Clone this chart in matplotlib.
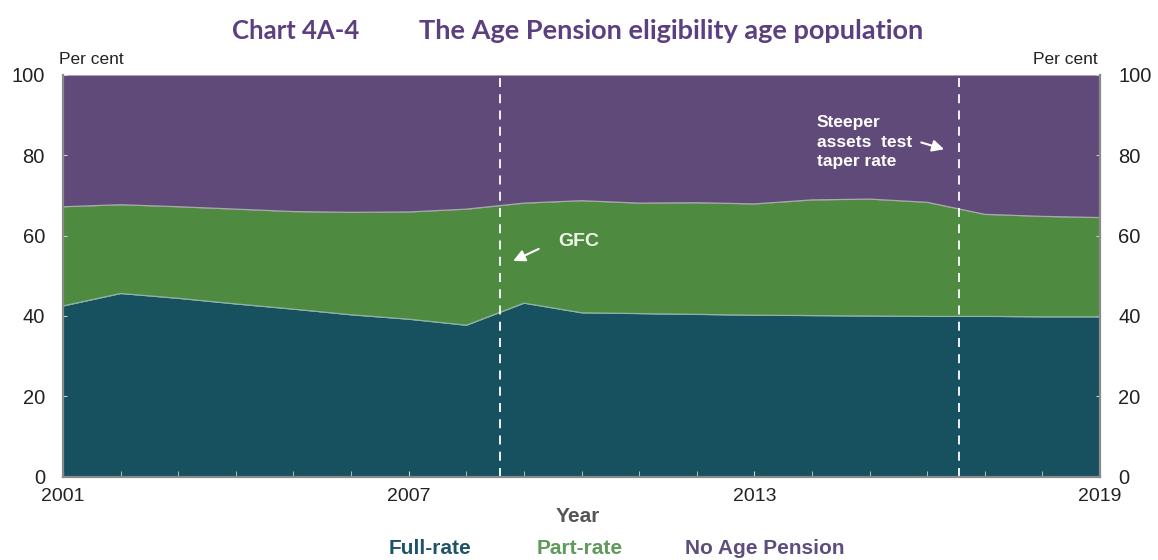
import numpy as np
import matplotlib.pyplot as plt

# Share of the Age Pension eligibility age population (per cent)
years = [2001, 2002, 2003, 2004, 2005, 2006, 2007, 2008, 2009, 2010,
         2011, 2012, 2013, 2014, 2015, 2016, 2017, 2018, 2019]
full_rate = [42.5, 45.6, 44.4, 43.0, 41.7, 40.3, 39.2, 37.7, 43.2, 40.8,
             40.6, 40.4, 40.2, 40.1, 40.0, 39.9, 39.9, 39.8, 39.8]
part_top = [67.2, 67.7, 67.2, 66.6, 66.0, 65.8, 65.9, 66.6, 68.1, 68.7,
            68.1, 68.2, 67.9, 68.9, 69.1, 68.3, 65.3, 64.8, 64.5]

gfc_year = 2008.58
taper_year = 2016.55

C_FULL = '#17505f'
C_PART = '#4f8a41'
C_NONE = '#604a7a'
TXT = '#222222'

plt.rcParams['font.family'] = ['Liberation Sans', 'DejaVu Sans']

fig = plt.figure(figsize=(11.58, 5.6), dpi=100)
ax = fig.add_axes([0.0544, 0.1488, 0.8956, 0.7173])

x = np.array(years, dtype=float)
full = np.array(full_rate)
part = np.array(part_top)

ax.fill_between(x, 0, full, color=C_FULL, lw=0)
ax.fill_between(x, full, part, color=C_PART, lw=0)
ax.fill_between(x, part, 100, color=C_NONE, lw=0)
ax.plot(x, full, color='#8fb3a8', lw=0.9)
ax.plot(x, part, color='#a9a9a9', lw=0.9)

for xv in (gfc_year, taper_year):
    ax.plot([xv, xv], [0, 100], color='white', lw=1.3, ls=(0, (5, 4)))

ax.set_xlim(2001, 2019)
ax.set_ylim(0, 100)

ax.set_xticks([2001, 2007, 2013, 2019])
ax.set_xticks(years, minor=True)
ax.set_yticks([0, 20, 40, 60, 80, 100])
ax.tick_params(axis='x', which='both', direction='in', length=4, color='#c9d3d6',
               labelsize=14, labelcolor=TXT, pad=8)
ax.tick_params(axis='y', which='both', direction='in', length=3, color='#c9d3d6',
               labelsize=14.5, labelcolor=TXT, left=True, right=True,
               labelleft=True, labelright=True, pad=13)

for side in ('left', 'bottom', 'right'):
    ax.spines[side].set_color('#8a8a8a')
    ax.spines[side].set_linewidth(1.6)
ax.spines['top'].set_visible(False)

# per cent labels above each y axis
fig.text(59 / 1158, 1 - 60 / 560, 'Per cent', fontsize=12.5, color=TXT,
         ha='left', va='center')
fig.text(1098 / 1158, 1 - 60 / 560, 'Per cent', fontsize=12.5, color=TXT,
         ha='right', va='center')

# title
fig.text(232 / 1158, 1 - 31 / 560, 'Chart 4A-4', fontsize=18.5, color='#5b3f80',
         family='Lato', weight='bold', ha='left', va='center')
fig.text(419 / 1158, 1 - 31 / 560, 'The Age Pension eligibility age population',
         fontsize=19.5, color='#5b3f80', family='Lato', weight='bold',
         ha='left', va='center')

# axis title and legend
fig.text(578 / 1158, 1 - 516 / 560, 'Year', fontsize=15, color='#555555',
         weight='bold', ha='center', va='center')
legend_items = [('Full-rate', '#1f5468', 430),
                ('Part-rate', '#5f9a5a', 580),
                ('No Age Pension', '#5e4e7c', 765)]
for name, col, xp in legend_items:
    fig.text(xp / 1158, 1 - 548 / 560, name, fontsize=15, color=col,
             weight='bold', ha='center', va='center')

# annotations
ax.text(2009.96, 58.6, 'GFC', fontsize=14, color='#eef4e8', weight='bold',
        ha='center', va='center')
ax.annotate('', xy=(2008.77, 53.4), xytext=(2009.30, 57.0),
            arrowprops=dict(arrowstyle='-|>,head_length=0.7,head_width=0.35',
                            color='white', lw=1.5))
ax.text(2014.08, 83.3, 'Steeper\nassets  test\ntaper rate', fontsize=12.5,
        color='white', weight='bold', ha='left', va='center', linespacing=1.4)
ax.annotate('', xy=(2016.34, 81.3), xytext=(2015.85, 83.4),
            arrowprops=dict(arrowstyle='-|>,head_length=0.7,head_width=0.35',
                            color='white', lw=1.5))

fig.savefig('out.png', dpi=100)
